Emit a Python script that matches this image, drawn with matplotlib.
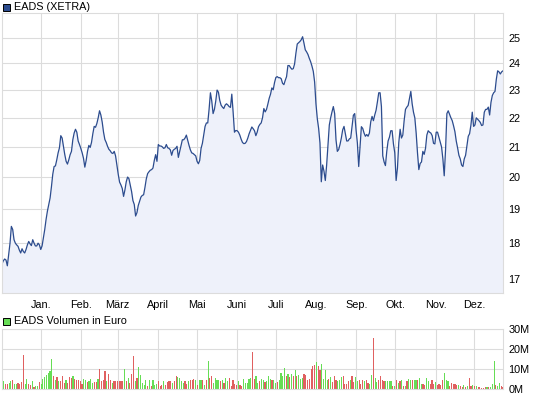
import numpy as np
import pandas as pd
import matplotlib
matplotlib.use("Agg")
import matplotlib.pyplot as plt
from matplotlib.patches import Rectangle

plt.rcParams['font.family'] = ['Liberation Sans', 'DejaVu Sans']

# Kursverlauf EADS (XETRA), Dez. bis Dez.
kurs = [
    17.41, 17.5, 17.55, 17.52, 17.36, 17.67, 18.0, 18.49, 18.4, 18.1, 18.0, 17.95,
    17.91, 17.8, 17.72, 17.84, 17.76, 17.72, 17.82, 17.95, 18.05, 17.98, 17.93, 18.1,
    18.0, 17.92, 17.92, 18.0, 17.95, 17.82, 17.92, 18.15, 18.4, 18.7, 18.95, 19.15,
    19.35, 19.7, 20.1, 20.35, 20.37, 20.57, 20.8, 20.97, 21.38, 21.3, 21.02, 20.74,
    20.52, 20.43, 20.57, 20.74, 20.85, 21.24, 21.47, 21.6, 21.5, 21.2, 21.08, 20.95,
    20.8, 20.62, 20.33, 20.55, 20.85, 21.05, 20.98, 21.15, 21.45, 21.7, 21.67, 21.8,
    22.0, 22.25, 22.1, 21.85, 21.5, 21.25, 21.15, 21.02, 20.92, 20.87, 20.8, 20.78,
    20.85, 20.7, 20.4, 20.1, 19.85, 19.76, 19.65, 19.4, 19.6, 19.86, 20.01, 19.96,
    # Maerz - Mai
    19.75, 19.55, 19.27, 19.15, 18.8, 18.9, 19.12, 19.25, 19.38, 19.43, 19.45, 19.68,
    19.95, 20.12, 20.18, 20.23, 20.25, 20.3, 20.55, 20.74, 20.52, 21.08, 21.03, 21.03,
    21.0, 20.95, 20.97, 21.08, 20.97, 20.95, 20.9, 20.72, 20.88, 20.92, 20.95, 21.02,
    20.65, 20.85, 21.06, 21.24, 21.24, 21.3, 21.4, 21.22, 21.05, 20.9, 20.8, 20.78,
    20.74, 20.7, 20.52, 20.44, 20.55, 20.95, 21.12, 21.4, 21.7, 21.82, 21.82, 22.3,
    22.9, 22.6, 22.15, 22.3, 22.6, 23.0, 22.92, 22.62, 22.45, 22.38, 22.33, 22.45,
    22.5, 22.46, 22.4, 22.37, 22.85, 22.2, 21.5, 21.56, 21.55, 21.5, 21.4, 21.26,
    21.15, 21.11, 21.12, 21.18, 21.3, 21.45, 21.57, 21.68, 21.62, 21.55,
    # Juni - Sep.
    21.38, 21.5, 21.69, 21.77, 21.82, 22.0, 22.33, 22.21, 22.3, 22.49, 22.7, 22.85,
    23.08, 23.01, 23.28, 23.47, 23.5, 23.46, 23.46, 23.42, 23.25, 23.2, 23.36, 23.5,
    23.92, 23.92, 23.84, 23.78, 23.8, 23.98, 24.4, 24.76, 24.81, 24.86, 24.93, 25.05,
    24.8, 24.53, 24.45, 24.35, 24.2, 24.07, 23.9, 23.7, 23.3, 22.5, 21.97, 21.63,
    21.13, 19.86, 20.4, 20.2, 19.9, 20.4, 21.08, 21.75, 22.0, 22.21, 22.4, 22.15,
    21.24, 20.85, 20.91, 21.08, 21.3, 21.58, 21.7, 21.45, 21.2, 21.2, 21.27, 21.3,
    21.69, 22.09, 22.15, 21.58, 21.13, 20.35, 21.0, 21.69, 21.63, 21.47, 21.36, 21.42,
    21.36, 21.47, 21.86, 22.05, 21.9, 22.1, 22.27, 22.57, 22.9, 22.9,
    # Sep. - Dez.
    22.4, 20.7, 20.5, 20.38, 20.85, 21.2, 21.33, 21.55, 21.55, 21.1, 20.8, 19.9,
    20.3, 21.15, 21.6, 21.3, 21.4, 21.9, 22.3, 22.38, 22.44, 22.7, 22.95, 22.5,
    22.2, 22.0, 21.47, 20.8, 20.25, 20.45, 20.5, 20.85, 20.75, 20.95, 21.4, 21.55,
    21.5, 21.47, 21.38, 21.12, 21.1, 21.5, 21.5, 21.33, 21.17, 21.0, 20.6, 20.05,
    20.9, 22.15, 22.25, 22.12, 22.0, 21.9, 21.72, 21.52, 21.2, 20.97, 20.72, 20.6,
    20.4, 20.35, 20.6, 20.72, 21.05, 21.36, 21.45, 21.75, 22.2, 21.7, 21.75, 22.0,
    21.95, 21.9, 21.84, 21.73, 21.75, 22.2, 22.3, 22.3, 22.38, 22.1, 22.55, 22.8,
    22.9, 22.95, 23.4, 23.72, 23.68, 23.6, 23.68, 23.72,
]

# Umsatz in Mio. Euro
volumen = [
    5.2, 3.8, 2.7, 2.7, 3.0, 4.2, 4.7, 2.7, 2.7, 3.0, 2.7, 3.3, 17.2, 2.7, 5.2, 2.7,
    1.8, 3.8, 1.0, 1.7, 1.7, 3.3, 2.7, 5.0, 6.0, 7.2, 8.0, 8.8, 15.2, 6.7, 4.7, 5.8,
    3.8, 4.2, 6.7, 3.0, 4.7, 3.0, 6.0, 5.5, 6.3, 5.0, 4.7, 4.7, 3.8, 2.7, 5.2, 4.3,
    3.5, 4.2, 5.0, 3.0, 3.3, 3.3, 5.2, 10.2, 3.8, 4.3, 9.2, 4.2, 7.7, 4.7, 3.0, 3.8,
    3.8, 3.8, 3.8, 3.8, 3.8, 10.2, 3.8, 5.5, 3.0, 7.7, 16.7, 3.8, 5.5, 11.0, 7.2, 3.0,
    2.2, 4.7, 1.7, 4.7, 1.7, 4.7, 2.2, 2.7, 3.8, 1.7, 2.2, 4.2, 2.2, 3.3, 3.8, 3.8,
    3.0, 3.8, 6.7, 6.0, 5.5, 3.8, 3.0, 3.8, 2.7, 4.2, 4.7, 4.7, 5.0, 4.7, 2.2, 4.7,
    4.7, 4.7, 2.2, 4.7, 13.8, 5.5, 6.7, 3.0, 5.5, 4.7, 4.7, 3.8, 4.7, 3.0, 5.5, 3.8,
    5.5, 1.7, 4.7, 2.7, 2.2, 3.8, 2.2, 1.7, 5.2, 3.0, 3.0, 5.0, 5.5, 18.3, 5.0, 6.7,
    3.0, 3.8, 5.0, 4.3, 3.3, 3.8, 6.7, 5.0, 4.7, 4.3, 3.0,
    3.3, 4.7, 8.0, 6.3, 10.5, 6.3, 7.7, 6.0, 7.7, 6.7, 9.3, 6.3, 7.2, 5.0, 5.3, 7.7,
    7.2, 4.7, 5.0, 10.0, 11.3, 12.2, 13.3, 11.3, 9.7, 12.7, 5.0, 9.7, 4.7, 5.0, 5.8, 3.3,
    6.7, 4.7, 3.8, 4.7, 6.0, 6.7, 2.7, 2.7, 3.8, 4.7, 6.7, 3.3, 5.8, 3.8, 4.7, 2.7,
    4.7, 3.8, 4.7, 3.0, 2.7, 7.2, 25.5, 5.5, 3.3, 4.7, 6.7, 4.7, 3.8, 3.8, 4.2, 3.8,
    4.2, 1.7, 1.7, 4.7, 3.0, 3.8, 4.7, 1.7, 1.7, 3.8, 5.2, 4.7, 4.7, 4.3, 4.7, 4.7,
    5.5, 2.7, 2.7, 2.2, 5.5, 3.8, 2.7, 4.7, 2.7, 3.3, 2.2, 2.7, 2.2, 4.7, 8.0, 4.3,
    3.8, 1.7, 3.0, 2.7, 2.7, 2.2, 2.2, 1.7, 1.0, 2.2, 1.0, 1.7, 5.5, 1.7, 2.2, 1.3,
    1.7, 1.0, 0.8, 0.7, 0.7, 1.0, 1.0, 1.0, 1.0, 2.7, 13.8, 2.2, 1.7, 3.0, 1.7, 1.0,
]
# Tagesrichtung: u = gruen, d = rot
richtung = (
    "uudduuduud" "ddduuddudu" "uduuuuuuud" "ududdduddd" "uddddduudu"
    "uudduddddu" "dduddddddu" "duddduduuu" "uududuuudd" "dudddduddu"
    "uuuddudddu" "duudududdu" "uuududuudd" "dddudduuuu" "udduuduudu"
    "uuduu"
    "duuuududud" "uduuuddddd" "ddudduuuud" "uddduuuddd" "dudduudddu"
    "dduuduuddd" "duuuududud" "ududuuduud" "uudduudddu" "dddduuuddd"
    "dduddududd" "ududddddud" "uuuduudd"
)

monate = ["Jan.", "Feb.", "März", "April", "Mai", "Juni", "Juli", "Aug.",
          "Sep.", "Okt.", "Nov.", "Dez."]

start, ende = "2010-12-02", "2011-12-23"
tage = pd.date_range(start, ende, periods=len(kurs))
vtage = pd.date_range(start, ende, periods=len(volumen))
monatsanfang = pd.date_range("2011-01-01", periods=12, freq="MS")

linie = "#2c4c8e"
flaeche = "#eef1fa"
gitter = "#dcdcdc"
gruen = "#66dd55"
rot = "#e06060"

fig = plt.figure(figsize=(5.45, 3.98), dpi=100)
ax = fig.add_axes([2/545, 1-293/398, 501/545, 280/398])
axv = fig.add_axes([2/545, 1-389/398, 501/545, 60/398])

# Kurs
ax.fill_between(tage, kurs, 16.0, color=flaeche, lw=0)
ax.plot(tage, kurs, color=linie, lw=0.9)
ax.set_yscale("log")
ax.set_ylim(16.62, 26.02)
ax.set_xlim(tage[0], tage[-1])
yt = list(range(17, 26))
ax.set_yticks(yt)
ax.set_yticklabels([str(v) for v in yt])
ax.yaxis.set_minor_locator(matplotlib.ticker.NullLocator())
ax.set_xticks(monatsanfang)
ax.set_xticklabels(monate)

# Volumen
farben = [gruen if c == "u" else rot for c in richtung]
axv.bar(vtage, volumen, width=0.9, color=farben, lw=0, antialiased=False)
axv.set_xlim(tage[0], tage[-1])
axv.set_ylim(0, 30)
axv.set_yticks([0, 10, 20, 30])
axv.set_yticklabels(["0M", "10M", "20M", "30M"])
axv.set_xticks(monatsanfang)
axv.set_xticklabels([])

for a in (ax, axv):
    a.grid(True, color=gitter, lw=0.8)
    a.set_axisbelow(True)
    a.yaxis.tick_right()
    a.tick_params(length=0, labelsize=7.8, pad=4, colors="black")
    for s in a.spines.values():
        s.set_color(gitter)
        s.set_linewidth(0.8)
ax.tick_params(axis="x", pad=5)

# Legenden
fig.patches.append(Rectangle((3/545, 1-11/398), 7/545, 7/398, transform=fig.transFigure,
                             facecolor=linie, edgecolor="black", lw=0.7))
fig.text(14/545, 1-7/398, "EADS (XETRA)", fontsize=7.8, va="center")
fig.patches.append(Rectangle((3/545, 1-325/398), 7/545, 7/398, transform=fig.transFigure,
                             facecolor=gruen, edgecolor="black", lw=0.7))
fig.text(14/545, 1-321/398, "EADS Volumen in Euro", fontsize=7.8, va="center")

fig.savefig("out.png", dpi=100)
